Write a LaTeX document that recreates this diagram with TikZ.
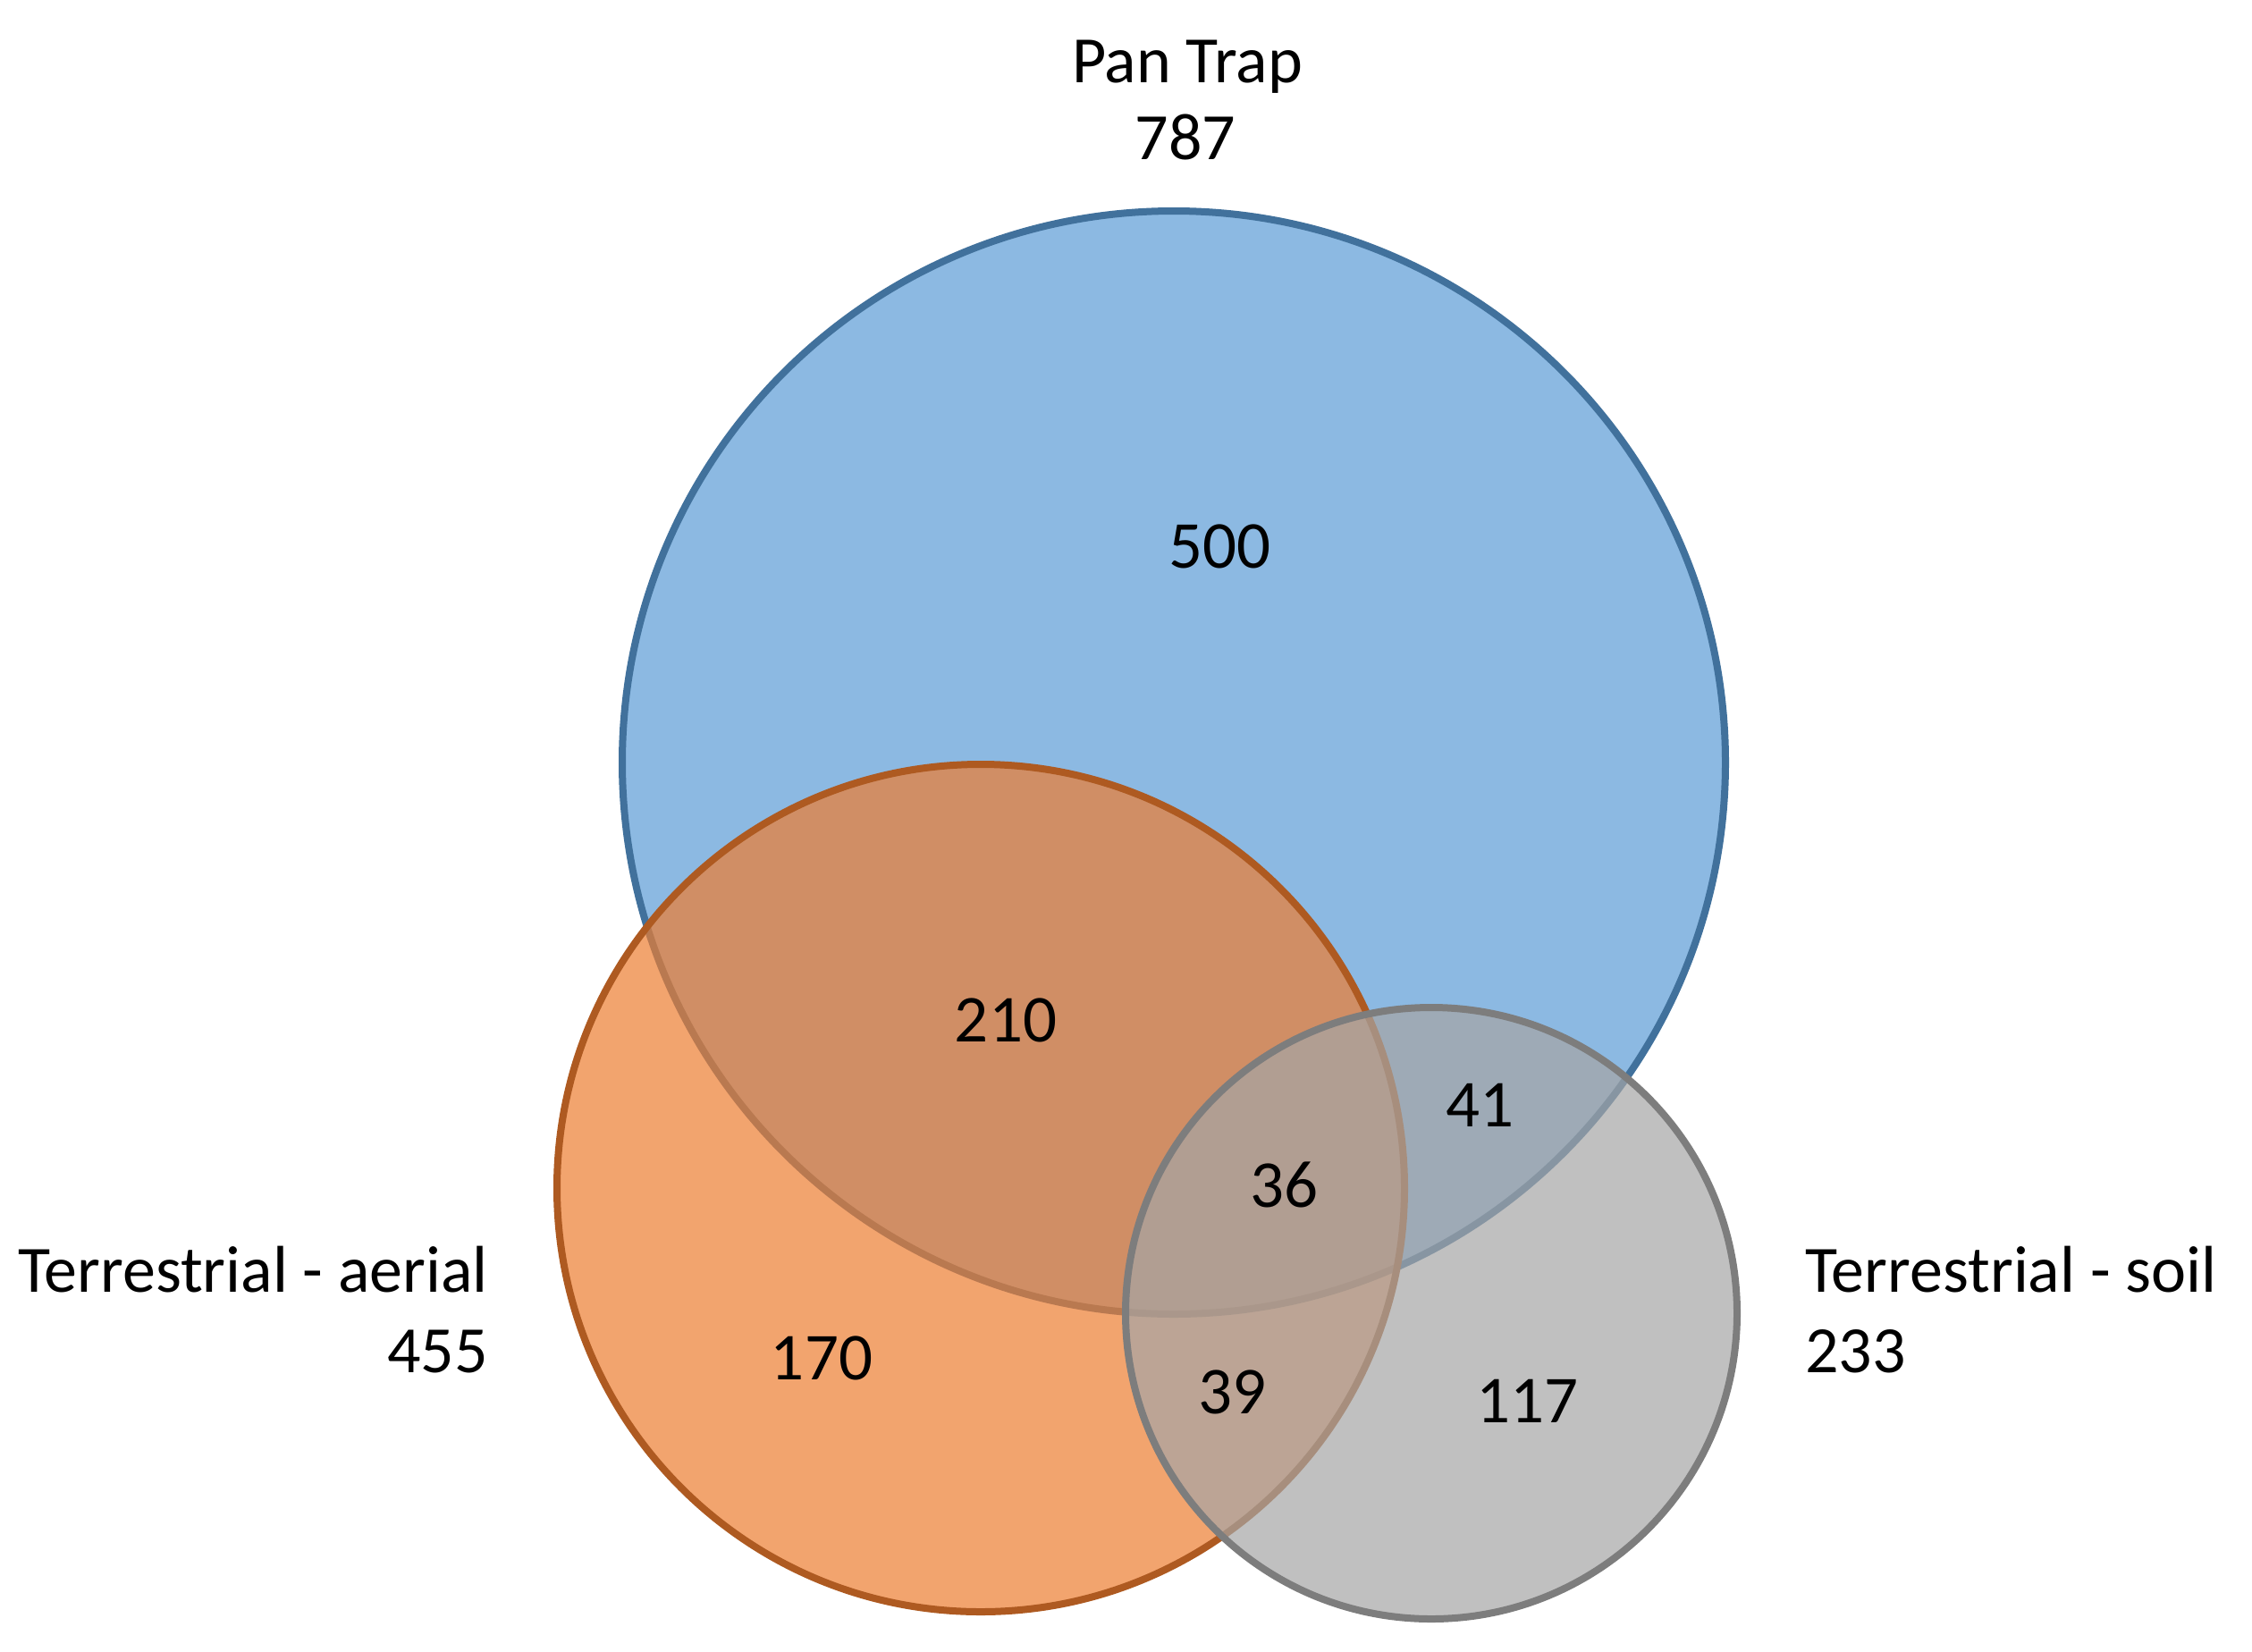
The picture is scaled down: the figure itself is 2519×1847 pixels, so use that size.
\documentclass[tikz,border=0pt]{standalone}
\usepackage{fontspec}
\setmainfont{Carlito}
\definecolor{bluefill}{HTML}{5B9BD5}
\definecolor{blueline}{HTML}{41719C}
\definecolor{orangefill}{HTML}{ED7D31}
\definecolor{orangeline}{HTML}{AE5A21}
\definecolor{grayfill}{HTML}{A5A5A5}
\definecolor{grayline}{HTML}{7D7D7D}
\begin{document}
\begin{tikzpicture}[x=0.5pt,y=-0.5pt,
  setcircle/.style={circle, inner sep=0pt, outer sep=0pt, line width=4pt, fill opacity=0.7},
  lbl/.style={inner sep=0pt, font=\fontsize{37}{44}\selectfont},
  num/.style={inner sep=0pt, anchor=base, font=\fontsize{37.5}{44}\selectfont}]
\useasboundingbox (0,0) rectangle (2519,1847);
\node[setcircle, draw=blueline, fill=bluefill, minimum size=617pt] (pan) at (1313,853) {};
\node[setcircle, draw=orangeline, fill=orangefill, minimum size=474pt] (aer) at (1097,1329) {};
\node[setcircle, draw=grayline, fill=grayfill, minimum size=342pt] (soil) at (1601,1469) {};
% set labels
\node[lbl, anchor=base] (panname) at (1328,92) {Pan Trap};
\node[lbl, anchor=base] (pannum) at (1326,178) {787};
\node[lbl, anchor=base east] (aername) at (546,1445) {Terrestrial - aerial};
\node[lbl, anchor=base east] (aernum) at (546,1535) {455};
\node[lbl, anchor=base west] (soilname) at (2019,1445) {Terrestrial - soil};
\node[lbl, anchor=base west] (soilnum) at (2019,1535) {233};
% region counts
\node[num] (n500) at (1364,635) {500};
\node[num] (n210) at (1125,1165) {210};
\node[num] (n170) at (919,1543) {170};
\node[num] (n41) at (1655,1260) {41};
\node[num] (n36) at (1436,1350) {36};
\node[num] (n39) at (1378,1581) {39};
\node[num] (n117) at (1708,1591) {117};
\end{tikzpicture}
\end{document}
